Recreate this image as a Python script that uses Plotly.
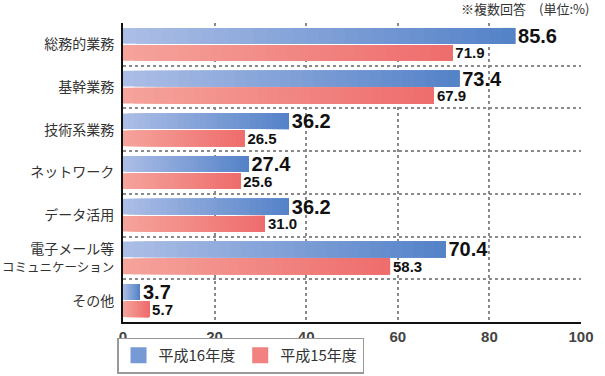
import plotly.graph_objects as go

categories = ['総務的業務', '基幹業務', '技術系業務', 'ネットワーク', 'データ活用',
              '電子メール等コミュニケーション', 'その他']
tick_labels = ['総務的業務', '基幹業務', '技術系業務', 'ネットワーク', 'データ活用',
               '電子メール等<br><span style="font-size:12.5px">コミュニケーション</span>', 'その他']
h16 = [85.6, 73.4, 36.2, 27.4, 36.2, 70.4, 3.7]
h15 = [71.9, 67.9, 26.5, 25.6, 31.0, 58.3, 5.7]
series_names = ['平成16年度', '平成15年度']

blue_start, blue_end = (172, 190, 230), (84, 130, 200)
pink_start, pink_end = (245, 164, 156), (238, 108, 108)
N = 30


def lerp(c0, c1, t):
    return 'rgb(%d,%d,%d)' % tuple(round(a + (b - a) * t) for a, b in zip(c0, c1))


fig = go.Figure()

for vals, c0, c1, grp, tsize in [(h16, blue_start, blue_end, 'a', 20),
                                 (h15, pink_start, pink_end, 'b', 15)]:
    # overlapping gradient pieces: piece i spans from v*i/N to the bar end
    for i in range(N):
        fig.add_trace(go.Bar(
            y=categories, x=[v * (N - i) / N for v in vals], base=[v * i / N for v in vals],
            orientation='h', offsetgroup=grp,
            marker=dict(color=lerp(c0, c1, (i + 0.5) / N), line=dict(width=0)),
            showlegend=False, hoverinfo='skip'))
    fig.add_trace(go.Bar(
        y=categories, x=vals, orientation='h', offsetgroup=grp,
        marker=dict(color='rgba(0,0,0,0)', line=dict(width=0)),
        text=['%.1f' % v for v in vals], textposition='outside', constraintext='none',
        textfont=dict(family='Liberation Sans, Arial, sans-serif', size=tsize,
                      color='#111111', weight='bold'),
        cliponaxis=False, showlegend=False))

for name, c0, c1 in [(series_names[0], blue_start, blue_end),
                     (series_names[1], pink_start, pink_end)]:
    fig.add_trace(go.Scatter(x=[None], y=[None], mode='markers', name=name,
                             marker=dict(symbol='square', size=16, color=lerp(c0, c1, 0.6))))

fig.update_layout(
    width=605, height=376,
    margin=dict(l=123, r=24, t=23, b=54, autoexpand=False),
    paper_bgcolor='white', plot_bgcolor='white',
    barmode='group', bargap=0.2, bargroupgap=0.08,
    font=dict(family='Noto Sans CJK JP, sans-serif', color='#333333'),
    xaxis=dict(range=[0, 100], dtick=20, showgrid=True, gridcolor='#8a8a8a',
               griddash='dot', gridwidth=1.5, zeroline=False,
               showline=True, linecolor='#111111', linewidth=2,
               tickfont=dict(family='Liberation Sans, Arial, sans-serif', size=15,
                             color='#444444', weight='bold')),
    yaxis=dict(type='category', autorange='reversed', tickson='boundaries',
               tickmode='array', tickvals=categories, ticktext=tick_labels,
               showgrid=True, gridcolor='#8a8a8a', griddash='dot', gridwidth=1.5,
               showline=True, linecolor='#111111', linewidth=2, ticks='',
               ticklabelstandoff=4, automargin=False,
               tickfont=dict(size=14, color='#333333')),
    legend=dict(orientation='h', x=-0.013, y=-0.052, xanchor='left', yanchor='top',
                bordercolor='#999999', borderwidth=1.5,
                font=dict(size=15, color='#333333'), itemwidth=30),
    annotations=[dict(text='※複数回答　(単位:%)', xref='paper', yref='paper',
                      x=1.022, y=1.05, xanchor='right', yanchor='middle',
                      showarrow=False, font=dict(size=13, color='#333333'))],
)

fig.write_html('out.html', config={'displayModeBar': False},
               post_script="document.body.style.margin='0';document.body.style.padding='0';")
